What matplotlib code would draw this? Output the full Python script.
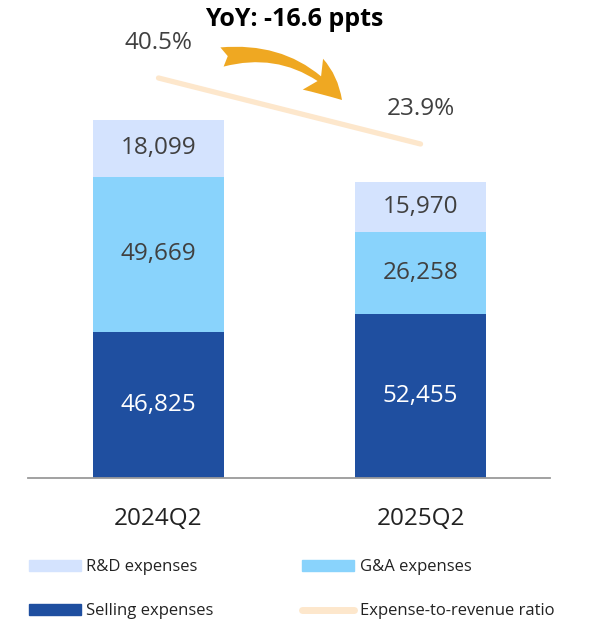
import matplotlib.pyplot as plt
from matplotlib.patches import FancyArrowPatch
from matplotlib.lines import Line2D
from matplotlib.patches import Patch

quarters = ["2024Q2", "2025Q2"]
selling = [46825, 52455]
g_and_a = [49669, 26258]
r_and_d = [18099, 15970]
ratio = [40.5, 23.9]
yoy_text = "YoY: -16.6 ppts"

C_SELL = "#1F4FA0"
C_GA = "#89D3FC"
C_RD = "#D4E3FE"
C_LINE = "#FDE7CC"
C_ARROW = "#EFA822"
C_TEXT = "#404040"

plt.rcParams["font.family"] = ["Open Sans", "DejaVu Sans"]

W, H = 589, 619
fig = plt.figure(figsize=(W / 100, H / 100), dpi=100)
ax = fig.add_axes([28 / W, (H - 478) / H, 522 / W, 468 / H])

x = [0, 1]
bw = 0.5
b1 = ax.bar(x, selling, bw, color=C_SELL, label="Selling expenses")
bottom2 = selling
b2 = ax.bar(x, g_and_a, bw, bottom=bottom2, color=C_GA, label="G&A expenses")
bottom3 = [s + g for s, g in zip(selling, g_and_a)]
b3 = ax.bar(x, r_and_d, bw, bottom=bottom3, color=C_RD, label="R&D expenses")

for bars, vals, bots, col in [(b1, selling, [0, 0], "white"),
                              (b2, g_and_a, bottom2, C_TEXT),
                              (b3, r_and_d, bottom3, C_TEXT)]:
    for xi, v, b in zip(x, vals, bots):
        ax.text(xi, b + v / 2, f"{v:,}", ha="center", va="center",
                fontsize=17.5, color=col)

ax.set_xlim(-0.498, 1.494)
ax.set_ylim(0, 149800)
for s in ["top", "left", "right"]:
    ax.spines[s].set_visible(False)
ax.spines["bottom"].set_color("#9a9a9a")
ax.spines["bottom"].set_linewidth(1.3)
ax.set_yticks([])
ax.set_xticks(x)
ax.set_xticklabels(quarters, fontsize=17.5, color="#222222")
ax.tick_params(axis="x", length=0, pad=21)

# expense-to-revenue ratio on its own scale
ax2 = ax.twinx()
ax2.set_ylim(-60.1, 57.6)
ax2.axis("off")
ax2.plot(x, ratio, color=C_LINE, lw=3.8, solid_capstyle="round")
for xi, r in zip(x, ratio):
    ax2.annotate(f"{r}%", (xi, r), xytext=(0, 25), textcoords="offset points",
                 ha="center", va="center", fontsize=17.5, color=C_TEXT)

arrow = FancyArrowPatch((222 / W, 1 - 57 / H), (342 / W, 1 - 100 / H),
                        transform=fig.transFigure,
                        connectionstyle="arc3,rad=-0.28",
                        arrowstyle="fancy,head_length=1.0,head_width=0.95,tail_width=0.5",
                        mutation_scale=28, color=C_ARROW, lw=0,
                        shrinkA=0, shrinkB=0)
fig.patches.append(arrow)

fig.text(294 / W, 1 - 20 / H, yoy_text, ha="center", va="center",
         fontsize=18, fontweight="bold", color="black")

# legend fills column by column
handles = [Patch(color=C_RD), Patch(color=C_SELL), Patch(color=C_GA),
           Line2D([], [], color=C_LINE, lw=5, solid_capstyle="round")]
labels = ["R&D expenses", "Selling expenses", "G&A expenses", "Expense-to-revenue ratio"]
fig.legend(handles, labels, ncol=2, loc="upper left",
           bbox_to_anchor=(14 / W, 1 - 544 / H), frameon=False, fontsize=12,
           handlelength=3.1, handleheight=0.65, handletextpad=0.35,
           columnspacing=5.3, labelspacing=1.7, labelcolor="#222222")

fig.savefig("out.png", dpi=100)
